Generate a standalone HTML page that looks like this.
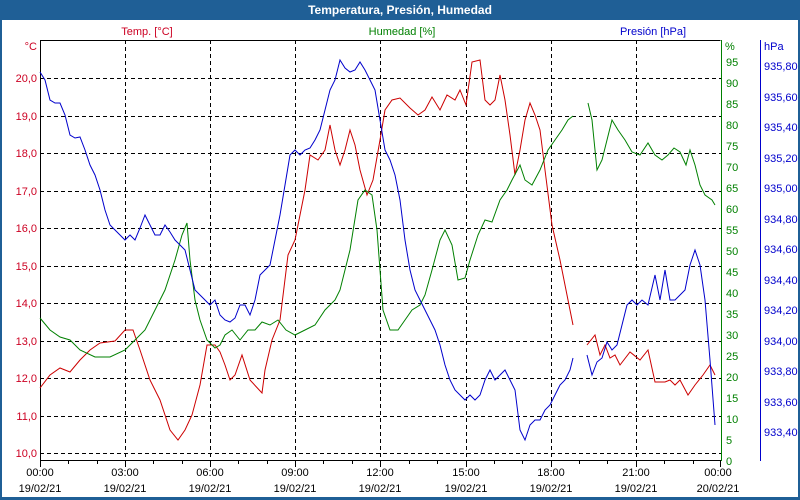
<!DOCTYPE html>
<html><head><meta charset="utf-8"><style>
body{margin:0;background:#fff}
svg{display:block;font-family:"Liberation Sans",sans-serif;font-size:11px}
</style></head><body>
<svg width="800" height="500" viewBox="0 0 800 500">
<rect x="0" y="0" width="800" height="500" fill="#1f5f96"/>
<rect x="2" y="20" width="796" height="477" fill="#fff"/>
<text x="400" y="14" fill="#fff" font-weight="bold" text-anchor="middle" font-size="12">Temperatura, Presión, Humedad</text>
<g stroke="#000" stroke-dasharray="4,3" stroke-width="1">
<line x1="40" y1="78.5" x2="721" y2="78.5"/><line x1="40" y1="116.5" x2="721" y2="116.5"/><line x1="40" y1="153.5" x2="721" y2="153.5"/><line x1="40" y1="191.5" x2="721" y2="191.5"/><line x1="40" y1="228.5" x2="721" y2="228.5"/><line x1="40" y1="266.5" x2="721" y2="266.5"/><line x1="40" y1="303.5" x2="721" y2="303.5"/><line x1="40" y1="341.5" x2="721" y2="341.5"/><line x1="40" y1="378.5" x2="721" y2="378.5"/><line x1="40" y1="416.5" x2="721" y2="416.5"/><line x1="40" y1="453.5" x2="721" y2="453.5"/>
<line x1="125.5" y1="40" x2="125.5" y2="460"/><line x1="210.5" y1="40" x2="210.5" y2="460"/><line x1="295.5" y1="40" x2="295.5" y2="460"/><line x1="380.5" y1="40" x2="380.5" y2="460"/><line x1="466.5" y1="40" x2="466.5" y2="460"/><line x1="551.5" y1="40" x2="551.5" y2="460"/><line x1="636.5" y1="40" x2="636.5" y2="460"/>
</g>
<g stroke="#000" fill="none"><path d="M40.5 40.5H720.5M40.5 40V461M40 460.5H721"/>
<path d="M68.5 460v4M97.5 460v4M125.5 460v7M153.5 460v4M182.5 460v4M210.5 460v7M238.5 460v4M267.5 460v4M295.5 460v7M323.5 460v4M352.5 460v4M380.5 460v7M409.5 460v4M437.5 460v4M466.5 460v7M494.5 460v4M522.5 460v4M551.5 460v7M579.5 460v4M607.5 460v4M636.5 460v7M664.5 460v4M693.5 460v4M40.5 460v7M720.5 460v7"/></g>
<line x1="721.5" y1="40" x2="721.5" y2="461" stroke="#008000"/>
<line x1="760.5" y1="40" x2="760.5" y2="461" stroke="#0000cc"/>
<g fill="#cc0022" text-anchor="end">
<text x="37" y="82">20,0</text><text x="37" y="120">19,0</text><text x="37" y="157">18,0</text><text x="37" y="195">17,0</text><text x="37" y="232">16,0</text><text x="37" y="270">15,0</text><text x="37" y="307">14,0</text><text x="37" y="345">13,0</text><text x="37" y="382">12,0</text><text x="37" y="420">11,0</text><text x="37" y="457">10,0</text><text x="37" y="50">°C</text>
</g>
<text x="147" y="35" fill="#cc0022" text-anchor="middle">Temp. [°C]</text>
<text x="402" y="35" fill="#008000" text-anchor="middle">Humedad [%]</text>
<text x="653" y="35" fill="#0000cc" text-anchor="middle">Presión [hPa]</text>
<g fill="#008000"><text x="725" y="50">%</text>
<text x="726" y="66">95</text><text x="726" y="87">90</text><text x="726" y="108">85</text><text x="726" y="129">80</text><text x="726" y="150">75</text><text x="726" y="171">70</text><text x="726" y="192">65</text><text x="726" y="213">60</text><text x="726" y="234">55</text><text x="726" y="255">50</text><text x="726" y="276">45</text><text x="726" y="297">40</text><text x="726" y="318">35</text><text x="726" y="339">30</text><text x="726" y="360">25</text><text x="726" y="381">20</text><text x="726" y="402">15</text><text x="726" y="423">10</text><text x="726" y="444">5</text><text x="726" y="465">0</text></g>
<g fill="#0000cc"><text x="764" y="50">hPa</text>
<text x="764" y="70">935,80</text><text x="764" y="101">935,60</text><text x="764" y="131">935,40</text><text x="764" y="162">935,20</text><text x="764" y="192">935,00</text><text x="764" y="223">934,80</text><text x="764" y="253">934,60</text><text x="764" y="284">934,40</text><text x="764" y="314">934,20</text><text x="764" y="345">934,00</text><text x="764" y="375">933,80</text><text x="764" y="406">933,60</text><text x="764" y="436">933,40</text></g>
<g fill="#000" text-anchor="middle">
<text x="40" y="476">00:00</text><text x="40" y="492">19/02/21</text>
<text x="125" y="476">03:00</text><text x="125" y="492">19/02/21</text>
<text x="210" y="476">06:00</text><text x="210" y="492">19/02/21</text>
<text x="295" y="476">09:00</text><text x="295" y="492">19/02/21</text>
<text x="380" y="476">12:00</text><text x="380" y="492">19/02/21</text>
<text x="466" y="476">15:00</text><text x="466" y="492">19/02/21</text>
<text x="551" y="476">18:00</text><text x="551" y="492">19/02/21</text>
<text x="636" y="476">21:00</text><text x="636" y="492">19/02/21</text>
<text x="718" y="476">00:00</text><text x="718" y="492">20/02/21</text></g>
<g fill="none" stroke-width="1">
<polyline stroke="#cc0000" points="40,388 50,375 60,368 70,372 80,360 90,350 100,343 115,341 125,330 133,330 140,350 150,380 160,400 170,430 178,440 185,430 192,415 200,385 207,345 215,345 220,352 225,365 230,380 235,375 242,355 250,380 262,393 265,370 272,340 280,320 288,255 295,240 300,215 305,190 310,155 318,160 325,150 330,125 335,150 340,165 345,150 350,130 355,145 360,170 367,195 373,180 380,140 385,110 392,100 400,98 410,108 418,115 425,110 432,97 440,110 447,95 455,100 460,90 466,105 472,62 480,60 485,100 490,105 495,100 500,75 505,100 510,135 515,175 520,150 525,120 530,103 535,115 540,130 545,170 552,225 560,260 567,295 573,325"/>
<polyline stroke="#cc0000" points="587,345 595,335 600,355 605,345 610,358 615,355 620,365 630,352 640,360 648,350 655,382 665,382 670,380 675,385 680,380 688,395 695,385 703,375 710,365 715,375"/>
<polyline stroke="#008000" points="40,318 50,330 60,337 70,340 80,350 95,357 110,357 125,350 135,340 145,330 155,310 165,290 175,260 182,235 187,223 190,260 195,300 200,320 207,340 215,348 220,345 225,335 232,330 240,340 248,330 255,330 262,322 270,325 278,320 286,330 295,335 305,330 315,325 325,310 335,300 340,290 350,250 358,200 365,190 372,195 377,230 383,310 390,330 398,330 405,320 412,310 420,305 425,295 432,270 440,240 445,230 452,245 458,280 465,278 470,260 478,235 485,220 492,222 500,200 507,190 512,180 520,165 525,180 532,185 540,170 548,150 555,140 562,130 568,120 573,116"/>
<polyline stroke="#008000" points="588,103 592,120 597,170 602,160 607,140 612,120 618,130 625,140 632,152 640,155 648,143 655,155 662,160 668,155 674,148 680,152 686,165 690,150 695,165 700,185 705,195 712,200 715,205"/>
<polyline stroke="#0000cc" points="40,72 45,80 50,100 55,103 60,103 65,115 70,135 75,138 80,137 85,150 90,165 95,175 100,190 105,210 110,225 115,230 120,235 125,240 130,235 135,240 140,228 145,215 150,225 155,235 160,235 165,225 170,232 175,240 180,245 185,250 190,270 195,290 200,295 205,300 210,305 215,300 220,315 225,320 230,322 235,318 240,305 245,305 250,315 255,300 260,275 265,270 270,265 275,240 280,215 285,185 290,155 295,150 300,155 305,150 310,148 315,140 320,130 325,110 330,90 335,80 340,60 345,68 350,72 355,70 360,62 365,70 370,80 375,90 380,120 385,150 390,160 395,175 400,200 405,240 410,270 415,290 420,300 425,310 430,320 435,330 440,345 445,365 450,380 455,390 460,395 465,400 470,395 475,400 480,395 485,380 490,370 495,380 500,375 505,370 510,380 515,390 520,430 525,440 530,425 535,420 540,420 545,410 550,405 555,395 560,385 565,380 570,370 573,358"/>
<polyline stroke="#0000cc" points="587,355 592,375 597,362 602,358 607,342 612,350 617,345 622,325 627,305 632,300 637,305 642,300 648,305 655,275 660,300 665,270 670,300 675,300 680,295 685,290 690,265 695,250 700,265 705,300 710,360 715,425"/>
</g>
</svg>
</body></html>
